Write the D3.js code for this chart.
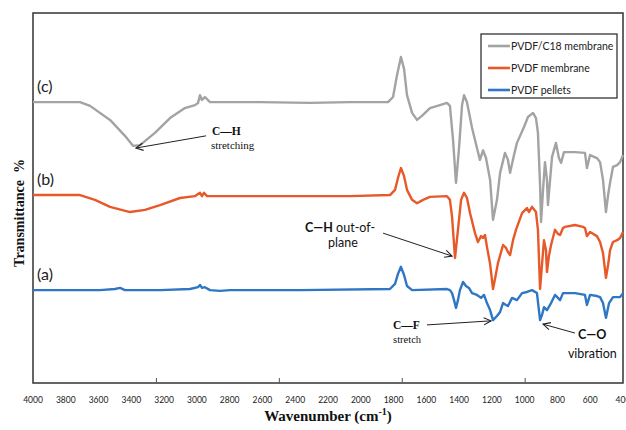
<!DOCTYPE html>
<html><head><meta charset="utf-8">
<script src="https://cdn.jsdelivr.net/npm/d3@7"></script>
<style>body{margin:0;background:#fff}</style>
</head><body><svg id="c" width="626" height="430"></svg>
<script>
// ---- data ----
const xTickLabels = [4000,3800,3600,3400,3200,3000,2800,2600,2400,2200,2000,1800,1600,1400,1200,1000,800,600,400];
const xMajorTicks = [3250,2500,1750,1000];
const seriesNames = ["PVDF/C18 membrane","PVDF membrane","PVDF pellets"];
const seriesLabels = ["(c)","(b)","(a)"];

const grayWn = [4000,3713,3652,3530,3439,3390,3347,3256,3164,3073,3012,2993,2981,2969,2951,2920,2615,2310,2066,1834,1803,1779,1755,1736,1718,1687,1657,1627,1578,1517,1474,1456,1437,1419,1401,1382,1370,1352,1321,1291,1273,1254,1236,1211,1193,1169,1150,1120,1102,1089,1065,1047,1004,980,949,931,919,906,900,888,876,864,858,845,833,809,791,778,760,693,632,620,601,559,540,522,504,491,479,461,436,418,400];
const grayT  = [75.9,75.9,74.9,71.1,66.8,64.1,64.3,67.6,71.6,74.3,75.1,75.7,77.8,76.5,77.3,75.9,75.9,75.7,75.9,75.9,77.3,83.2,88.1,84.9,77.8,73.0,71.1,72.2,74.3,75.1,75.7,74.9,65.7,54.1,63.2,75.1,77.8,75.9,68.9,63.5,60.3,62.9,60.8,54.9,44.1,49.5,56.8,62.2,60.3,56.8,61.6,64.9,69.2,71.9,73.0,71.6,67.6,53.5,43.5,52.2,59.7,54.9,48.1,54.9,61.1,64.9,60.8,59.5,62.4,62.4,62.2,58.1,61.6,60.8,59.7,54.9,46.2,50.8,54.1,58.4,58.9,59.7,61.6];

const orangeWn = [4000,3713,3622,3530,3408,3317,3225,3103,3012,2993,2981,2969,2957,2938,2615,2310,2066,1822,1791,1773,1755,1736,1718,1687,1657,1620,1578,1474,1456,1443,1425,1407,1388,1370,1352,1333,1303,1285,1266,1254,1242,1230,1211,1193,1175,1163,1132,1114,1102,1089,1071,1053,1016,986,974,955,931,919,906,894,882,870,864,852,839,815,797,784,766,754,693,644,632,620,601,559,540,522,504,491,479,461,436,418,400];
const orangeT  = [50.8,50.8,49.5,47.6,46.2,46.8,48.1,50.0,50.5,51.1,51.4,50.5,51.4,50.5,50.5,50.5,50.5,50.8,52.2,55.4,58.1,55.9,52.2,49.5,48.6,49.5,50.3,50.5,49.5,44.9,33.8,41.4,49.5,51.4,50.0,45.9,40.5,38.1,39.7,39.2,40.0,36.8,32.2,25.4,29.5,32.4,37.3,36.5,35.4,34.6,38.6,41.4,45.9,47.3,46.2,47.6,46.2,41.4,25.4,32.2,38.6,35.9,30.0,34.3,37.3,41.4,40.3,40.0,41.9,42.2,42.7,42.2,41.9,39.7,40.8,39.7,38.1,35.1,28.4,31.9,35.9,38.1,38.6,39.2,40.8];

const blueWn = [4000,3591,3500,3469,3439,3225,3042,2993,2981,2969,2951,2920,2859,2798,2371,1822,1791,1773,1755,1736,1718,1687,1474,1456,1443,1431,1419,1407,1395,1376,1358,1340,1321,1291,1266,1248,1230,1211,1193,1169,1150,1132,1114,1102,1077,1047,1016,986,955,925,906,894,882,864,839,815,797,784,766,693,632,620,601,559,540,522,504,485,461,418,400];
const blueT  = [25.1,25.1,25.4,25.7,25.1,25.1,25.4,25.9,26.5,25.7,25.9,25.1,24.9,25.1,25.1,25.4,26.8,29.5,31.4,29.2,26.2,25.1,25.4,25.1,24.3,22.4,20.3,22.4,25.1,27.3,26.2,25.7,24.3,23.8,23.0,23.8,21.6,19.7,17.0,18.1,19.2,21.6,21.1,20.8,23.0,22.4,24.3,24.6,25.1,24.3,17.0,18.4,20.5,19.7,21.6,23.8,23.0,22.4,24.3,24.3,23.8,21.1,23.8,23.5,23.2,21.6,17.6,21.6,23.2,23.2,24.3];

// ---- layout ----
const svg = d3.select("#c");
const L = 33, R = 623, T = 13, B = 383;
const x = d3.scaleLinear().domain([4000,400]).range([L,R]);
const y = d3.scaleLinear().domain([0,100]).range([B,T]);
const colors = ["#a3a3a3","#e8592a","#2f77c4"];
const sansFont = "Lato, 'Open Sans', sans-serif";
const serifFont = "'Liberation Serif', 'DejaVu Serif', serif";

const series = [
  {wn: grayWn, t: grayT},
  {wn: orangeWn, t: orangeT},
  {wn: blueWn, t: blueT}
];

// frame
svg.append("rect").attr("x",L).attr("y",T).attr("width",R-L).attr("height",B-T)
  .attr("fill","none").attr("stroke","#333").attr("stroke-width",1.5);

// major ticks (inside, bottom)
const xAxis = d3.axisBottom(x).tickValues(xMajorTicks).tickSize(-5).tickFormat("");
const gx = svg.append("g").attr("transform",`translate(0,${B})`).call(xAxis);
gx.select(".domain").remove();
gx.selectAll("line").attr("stroke","#555").attr("stroke-width",1);

// tick labels
svg.append("g").selectAll("text").data(xTickLabels).join("text")
  .attr("x",d=>x(d)).attr("y",403).attr("text-anchor","middle")
  .attr("font-family",sansFont).attr("font-size",8.5).attr("fill","#222")
  .text(d=>d);

// axis titles
const xt = svg.append("text").attr("x",(L+R)/2).attr("y",421).attr("text-anchor","middle")
  .attr("font-family",serifFont).attr("font-weight","bold").attr("font-size",15).attr("fill","#111");
xt.append("tspan").text("Wavenumber (cm");
xt.append("tspan").attr("font-size",10).attr("dy",-6).text("-1");
xt.append("tspan").attr("dy",6).text(")");

svg.append("text").attr("transform",`translate(24,213) rotate(-90)`).attr("text-anchor","middle")
  .attr("font-family",serifFont).attr("font-weight","bold").attr("font-size",14).attr("fill","#111")
  .attr("xml:space","preserve").text("Transmittance  %");

// lines
const line = d3.line().x(d=>x(d[0])).y(d=>y(d[1])).curve(d3.curveLinear);
[2,1,0].forEach(i=>{
  const s = series[i];
  const pts = s.wn.map((w,k)=>[w,s.t[k]]);
  svg.append("path").datum(pts).attr("d",line)
    .attr("fill","none").attr("stroke",colors[i]).attr("stroke-width",2.4)
    .attr("stroke-linejoin","round");
  svg.append("text").attr("x",x(3975)).attr("y",y(s.t[0])-10)
    .attr("font-family",sansFont).attr("font-size",16).attr("fill","#222").text(seriesLabels[i]);
});

// legend
const lg = svg.append("g");
lg.append("rect").attr("x",481).attr("y",34).attr("width",136).attr("height",64)
  .attr("fill","#fff").attr("stroke","#222").attr("stroke-width",1.2);
seriesNames.forEach((n,i)=>{
  const yy = 46 + i*22;
  lg.append("line").attr("x1",488).attr("x2",510).attr("y1",yy).attr("y2",yy)
    .attr("stroke",colors[i]).attr("stroke-width",2.6);
  lg.append("text").attr("x",511).attr("y",yy+3.5).attr("font-family",sansFont)
    .attr("font-size",10.5).attr("fill","#222").text(n);
});

// arrow marker
const defs = svg.append("defs");
defs.append("marker").attr("id","arr").attr("viewBox","0 0 10 10").attr("refX",9).attr("refY",5)
  .attr("markerWidth",9).attr("markerHeight",9).attr("orient","auto-start-reverse")
  .attr("markerUnits","userSpaceOnUse")
  .append("path").attr("d","M1,1 L9,5 L1,9").attr("fill","none").attr("stroke","#222").attr("stroke-width",1.2);

// annotations (data coordinates)
const annotations = [
  {from:[2944,66.8], to:[3372,63.5], lines:[
     {wn:2908,t:67.0,parts:[{s:"C—H",b:true}],font:serifFont,size:11.5},
     {wn:2914,t:63.2,parts:[{s:"stretching"}],font:serifFont,size:11}]},
  {from:[1864,40.5], to:[1443,34.3], lines:[
     {wn:2340,t:40.8,parts:[{s:"C—H",b:true},{s:" out-of-"}],font:sansFont,size:12.5},
     {wn:2200,t:36.8,parts:[{s:"plane"}],font:sansFont,size:12.5}]},
  {from:[1596,15.7], to:[1205,16.8], lines:[
     {wn:1803,t:14.6,parts:[{s:"C—F",b:true}],font:serifFont,size:11.5},
     {wn:1803,t:10.8,parts:[{s:"stretch"}],font:serifFont,size:10.5}]},
  {from:[693,13.5], to:[888,15.9], lines:[
     {wn:675,t:11.9,parts:[{s:"C—O",b:true}],font:sansFont,size:12.5},
     {wn:736,t:6.8,parts:[{s:"vibration"}],font:sansFont,size:12.5}]}
];
annotations.forEach(a=>{
  svg.append("line").attr("x1",x(a.from[0])).attr("y1",y(a.from[1]))
    .attr("x2",x(a.to[0])).attr("y2",y(a.to[1]))
    .attr("stroke","#222").attr("stroke-width",1).attr("marker-end","url(#arr)");
  a.lines.forEach(l=>{
    const t = svg.append("text").attr("x",x(l.wn)).attr("y",y(l.t))
      .attr("font-family",l.font).attr("font-size",l.size).attr("fill","#111")
      .attr("xml:space","preserve");
    l.parts.forEach(p=>t.append("tspan").attr("font-weight",p.b?"bold":"normal").text(p.s));
  });
});
</script></body></html>
